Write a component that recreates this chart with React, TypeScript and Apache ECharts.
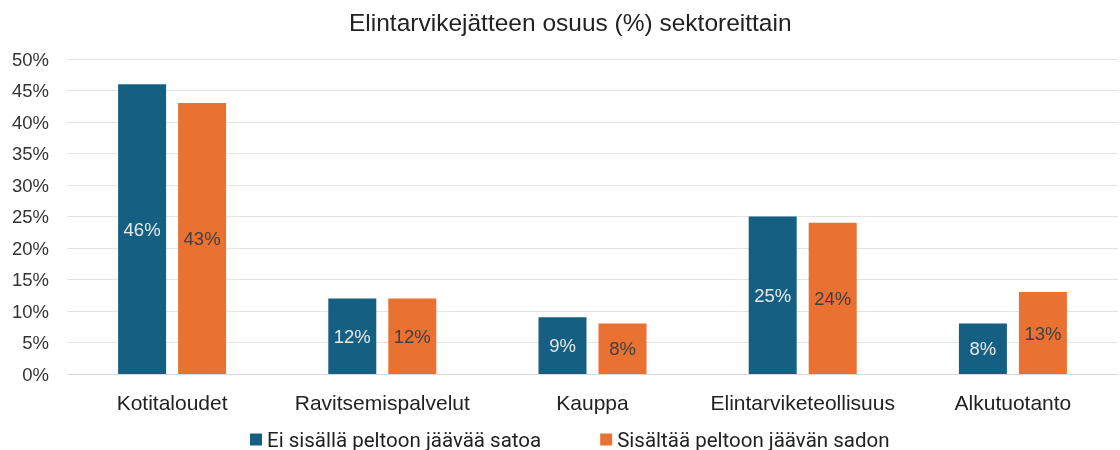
import React, { useEffect, useRef } from "react";
import * as echarts from "echarts";

const categories = ["Kotitaloudet", "Ravitsemispalvelut", "Kauppa", "Elintarviketeollisuus", "Alkutuotanto"];
const seriesNames = ["Ei sisällä peltoon jäävää satoa", "Sisältää peltoon jäävän sadon"];
const withoutField = [46, 12, 9, 25, 8];
const withField = [43, 12, 8, 24, 13];
const title = "Elintarvikejätteen osuus (%) sektoreittain";

export default function App() {
  const ref = useRef<HTMLDivElement>(null);
  useEffect(() => {
    const chart = echarts.init(ref.current!, null, { renderer: "svg" });
    chart.setOption({
      animation: false,
      title: {
        text: title,
        left: 344,
        top: 5,
        textStyle: { fontFamily: "Liberation Sans", fontSize: 24.5, fontWeight: "normal", color: "#222" },
      },
      grid: { left: 67, right: 2, top: 59, bottom: 76 },
      legend: {
        top: 429,
        left: 250,
        padding: 0,
        itemWidth: 12,
        itemHeight: 12,
        itemGap: 59,
        icon: "rect",
        textStyle: { fontFamily: "Roboto", fontSize: 20.5, lineHeight: 20, color: "#222" },
      },
      xAxis: {
        type: "category",
        data: categories,
        axisTick: { show: false },
        axisLine: { lineStyle: { color: "#d9d9d9" } },
        axisLabel: { interval: 0, hideOverlap: false, fontFamily: "Liberation Sans", fontSize: 21, color: "#222", margin: 18 },
      },
      yAxis: {
        type: "value",
        min: 0,
        max: 50,
        interval: 5,
        axisLabel: { formatter: "{value}%", fontFamily: "Liberation Sans", fontSize: 18.5, color: "#333", margin: 18 },
        splitLine: { lineStyle: { color: "#e3e3e3" } },
      },
      series: [
        {
          name: seriesNames[0],
          type: "bar",
          data: withoutField,
          barWidth: 48,
          barGap: "25%",
          itemStyle: { color: "#156082" },
          label: { show: true, position: "inside", formatter: "{c}%", color: "#e8e8e8", fontFamily: "Liberation Sans", fontSize: 18.5 },
        },
        {
          name: seriesNames[1],
          type: "bar",
          data: withField,
          barWidth: 48,
          itemStyle: { color: "#E97132" },
          label: { show: true, position: "inside", formatter: "{c}%", color: "#404040", fontFamily: "Liberation Sans", fontSize: 18.5 },
        },
      ],
    });
    return () => chart.dispose();
  }, []);
  return <div ref={ref} style={{ position: "fixed", left: 0, top: 0, width: 1120, height: 450 }} />;
}
